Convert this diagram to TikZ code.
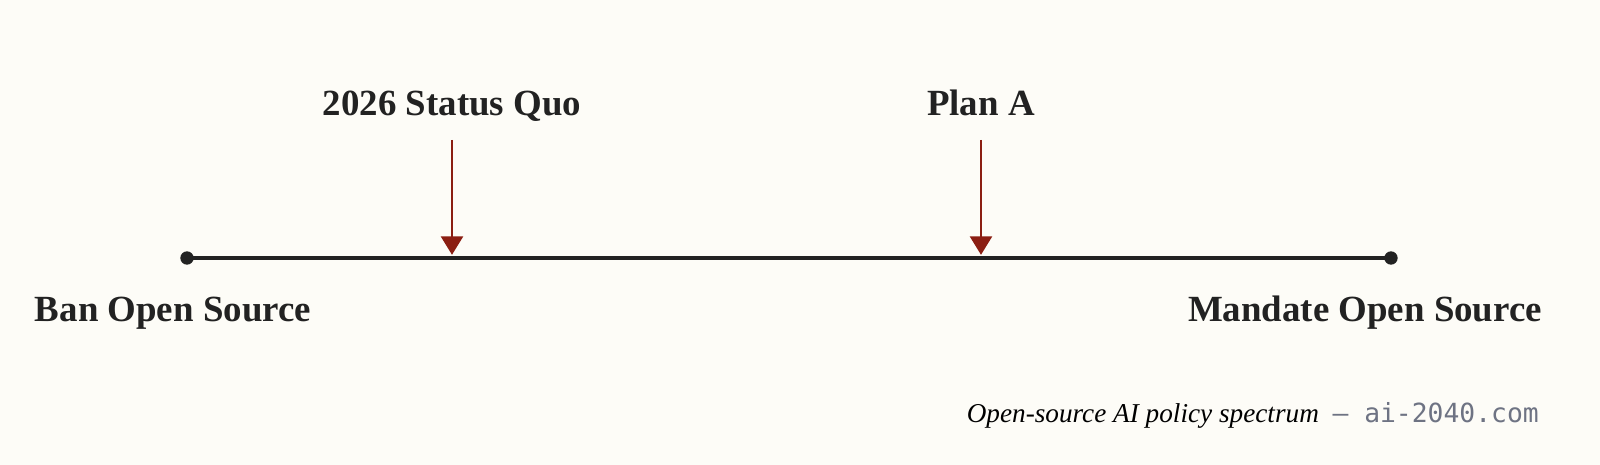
\documentclass[tikz,border=0pt]{standalone}
\usepackage{fontspec}
\setmainfont{Liberation Serif}
\setmonofont{DejaVu Sans Mono}
\usetikzlibrary{arrows.meta}
\definecolor{paper}{HTML}{FDFCF7}
\definecolor{marker}{HTML}{8B1E12}
\definecolor{axisline}{HTML}{222222}
\definecolor{urlgrey}{HTML}{6E7383}

\begin{document}
\begin{tikzpicture}[x=0.02cm,y=-0.02cm,
    poslabel/.style={anchor=base, font=\fontsize{21}{25}\selectfont\bfseries, text=axisline},
    endlabel/.style={anchor=base, font=\fontsize{21}{25}\selectfont\bfseries, text=axisline},
    pointer/.style={marker, line width=1.4pt, -{Triangle[width=12.5pt,length=10.5pt]}}]
            \fill[paper] (0,0) rectangle (1600,465);
            \useasboundingbox (0,0) rectangle (1600,465);

            \coordinate (left) at (187,258);
            \coordinate (right) at (1391,258);
            \coordinate (quo) at (452,258);
            \coordinate (plana) at (981,258);

            \draw[axisline, line width=2.2pt] (left) -- (right);
            \fill[axisline] (left) circle (3.8pt);
            \fill[axisline] (right) circle (3.8pt);

            \node[poslabel] (quolabel) at (452,116) {2026 Status Quo};
            \node[poslabel] (planlabel) at (981,116) {Plan A};
            \coordinate (quotop) at (452,140);
            \coordinate (plantop) at (981,140);
            \draw[pointer] (quotop) -- ([yshift=1.8pt]quo);
            \draw[pointer] (plantop) -- ([yshift=1.8pt]plana);

            \node[endlabel] (ban) at (173,322) {Ban Open Source};
            \node[endlabel] (mandate) at (1365,322) {Mandate Open Source};

            \node[anchor=base east, font=\fontsize{15.5}{18}\selectfont] (caption) at (1545,423)
                {\textit{Open-source AI policy spectrum}\hspace{0.5em}{\color{urlgrey}\ttfamily\fontsize{15}{18}\selectfont \textendash{} ai-2040.com}};
        \end{tikzpicture}
\end{document}
